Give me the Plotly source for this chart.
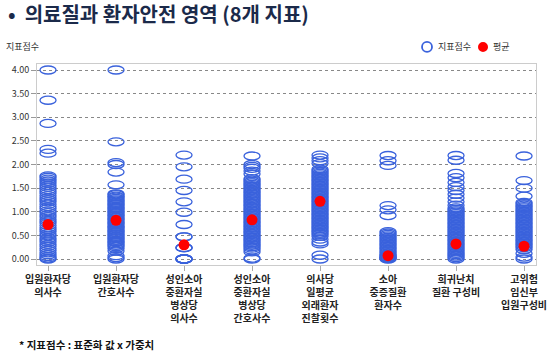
import plotly.graph_objects as go

categories = [
    "입원환자당<br>의사수",
    "입원환자당<br>간호사수",
    "성인소아<br>중환자실<br>병상당<br>의사수",
    "성인소아<br>중환자실<br>병상당<br>간호사수",
    "의사당<br>일평균<br>외래환자<br>진찰횟수",
    "소아<br>중증질환<br>환자수",
    "희귀난치<br>질환 구성비",
    "고위험<br>임신부<br>입원구성비",
]

scores_1 = [4.00, 3.36, 2.87, 2.32, 2.24, 1.76, 1.73, 1.69, 1.65, 1.61, 1.56, 1.52, 1.47, 1.43,
            1.39, 1.34, 1.29, 1.25, 1.21, 1.16, 1.11, 1.07, 1.02, 0.98, 0.93, 0.89, 0.84, 0.80,
            0.76, 0.71, 0.66, 0.62, 0.58, 0.53, 0.49, 0.44, 0.40, 0.36, 0.31, 0.27, 0.22, 0.18,
            0.13, 0.09, 0.05, 0.02, 0.00]
scores_2 = [4.00, 2.48, 2.04, 2.00, 1.84, 1.57, 1.38, 1.36, 1.33, 1.31, 1.28, 1.25, 1.23, 1.20,
            1.17, 1.15, 1.12, 1.09, 1.07, 1.04, 1.01, 0.99, 0.96, 0.93, 0.91, 0.88, 0.85, 0.83,
            0.80, 0.77, 0.75, 0.72, 0.69, 0.67, 0.64, 0.61, 0.59, 0.56, 0.53, 0.51, 0.48, 0.45,
            0.43, 0.40, 0.37, 0.35, 0.32, 0.29, 0.26, 0.22, 0.17, 0.07, 0.03, 0.00]
scores_3 = [2.20, 1.95, 1.69, 1.45, 1.21, 0.99, 0.73, 0.47, 0.47, 0.24, 0.24, 0.24, 0.00, 0.00,
            0.00, 0.00, 0.00, 0.00]
scores_4 = [2.18, 2.00, 1.96, 1.92, 1.86, 1.80, 1.70, 1.67, 1.64, 1.61, 1.58, 1.55, 1.52, 1.49,
            1.46, 1.43, 1.40, 1.37, 1.34, 1.31, 1.28, 1.25, 1.22, 1.19, 1.16, 1.13, 1.10, 1.07,
            1.04, 1.01, 0.98, 0.95, 0.92, 0.89, 0.86, 0.83, 0.80, 0.77, 0.74, 0.71, 0.68, 0.65,
            0.62, 0.59, 0.56, 0.53, 0.50, 0.47, 0.44, 0.41, 0.38, 0.35, 0.32, 0.29, 0.26, 0.23,
            0.19, 0.15, 0.02, 0.00]
scores_5 = [2.20, 2.14, 2.08, 2.02, 1.90, 1.87, 1.84, 1.81, 1.78, 1.75, 1.72, 1.69, 1.66, 1.63,
            1.60, 1.57, 1.54, 1.51, 1.48, 1.45, 1.42, 1.39, 1.36, 1.33, 1.30, 1.27, 1.24, 1.21,
            1.18, 1.15, 1.12, 1.09, 1.06, 1.03, 1.00, 0.97, 0.94, 0.91, 0.88, 0.85, 0.82, 0.79,
            0.76, 0.73, 0.70, 0.67, 0.64, 0.61, 0.58, 0.55, 0.52, 0.48, 0.42, 0.36, 0.32, 0.08,
            0.00]
scores_6 = [2.19, 2.08, 1.98, 1.13, 1.04, 0.92, 0.58, 0.55, 0.52, 0.49, 0.46, 0.43, 0.40, 0.37,
            0.34, 0.31, 0.28, 0.25, 0.22, 0.19, 0.16, 0.13, 0.10, 0.08, 0.06, 0.04, 0.03, 0.02,
            0.01, 0.00]
scores_7 = [2.19, 2.09, 1.81, 1.72, 1.62, 1.53, 1.45, 1.37, 1.29, 1.21, 1.14, 1.08, 1.05, 1.02,
            0.99, 0.96, 0.93, 0.90, 0.87, 0.84, 0.81, 0.78, 0.75, 0.72, 0.69, 0.66, 0.63, 0.60,
            0.57, 0.54, 0.51, 0.48, 0.45, 0.42, 0.39, 0.36, 0.33, 0.30, 0.27, 0.24, 0.21, 0.18,
            0.15, 0.12, 0.09, 0.06, 0.03, 0.00]
scores_8 = [2.18, 1.66, 1.50, 1.33, 1.20, 1.17, 1.14, 1.11, 1.08, 1.05, 1.02, 0.99, 0.96, 0.93,
            0.90, 0.87, 0.84, 0.81, 0.78, 0.75, 0.72, 0.69, 0.66, 0.63, 0.60, 0.57, 0.54, 0.51,
            0.48, 0.45, 0.42, 0.39, 0.36, 0.33, 0.30, 0.27, 0.24, 0.20, 0.12, 0.04, 0.00]

means = [0.73, 0.82, 0.30, 0.83, 1.22, 0.07, 0.32, 0.27]

y_ticks = [0.0, 0.5, 1.0, 1.5, 2.0, 2.5, 3.0, 3.5, 4.0]

legend_labels = ["지표점수", "평균"]

all_scores = [scores_1, scores_2, scores_3, scores_4, scores_5, scores_6, scores_7, scores_8]

BLUE = "#3a62dc"
RED = "#ff0000"
FONT = "Noto Sans CJK KR"
HALF_W = 0.118
HALF_H = 0.085

fig = go.Figure()

shapes = []
for i, vals in enumerate(all_scores):
    for v in vals:
        shapes.append(dict(
            type="circle", xref="x", yref="y",
            x0=i - HALF_W, x1=i + HALF_W, y0=v - HALF_H, y1=v + HALF_H,
            line=dict(color=BLUE, width=1.3),
            fillcolor="rgba(0,0,0,0)", layer="between",
        ))

# compact legend symbols, as in the reference
LEG_Y = 1.085
shapes.append(dict(type="circle", xref="paper", yref="paper",
                   xsizemode="pixel", ysizemode="pixel",
                   xanchor=0.7816, yanchor=LEG_Y, x0=-5, x1=5, y0=-5, y1=5,
                   line=dict(color=BLUE, width=1.8), fillcolor="rgba(0,0,0,0)"))
shapes.append(dict(type="circle", xref="paper", yref="paper",
                   xsizemode="pixel", ysizemode="pixel",
                   xanchor=0.8938, yanchor=LEG_Y, x0=-5, x1=5, y0=-5, y1=5,
                   line=dict(color=RED, width=0), fillcolor=RED))

fig.add_trace(go.Scatter(
    x=list(range(len(categories))), y=means, mode="markers", name=legend_labels[1],
    marker=dict(symbol="circle", size=11, color=RED),
    showlegend=False,
))

fig.update_layout(
    width=550, height=356,
    margin=dict(l=37, r=14, t=64, b=91, autoexpand=False),
    paper_bgcolor="white", plot_bgcolor="white",
    shapes=shapes,
    showlegend=False,
    font=dict(family=FONT, color="#333333", size=9),
    title=dict(
        text="<b>•  의료질과 환자안전 영역 (8개 지표)</b>",
        x=8 / 550, xanchor="left", xref="container",
        y=1 - 15 / 356, yanchor="middle", yref="container",
        font=dict(family=FONT, size=20, color="#1b2a4a"),
    ),
    annotations=[
        dict(text="지표점수", xref="paper", yref="paper", x=-0.066, y=LEG_Y,
             xanchor="left", yanchor="middle", showarrow=False,
             font=dict(family=FONT, size=9, color="#333333")),
        dict(text=legend_labels[0], xref="paper", yref="paper", x=0.7996, y=LEG_Y,
             xanchor="left", yanchor="middle", showarrow=False,
             font=dict(family=FONT, size=9, color="#333333")),
        dict(text=legend_labels[1], xref="paper", yref="paper", x=0.9098, y=LEG_Y,
             xanchor="left", yanchor="middle", showarrow=False,
             font=dict(family=FONT, size=9, color="#333333")),
        dict(text="<b>* 지표점수 : 표준화 값 x 가중치</b>", xref="paper", yref="paper",
             x=-0.04, y=-0.398, xanchor="left", yanchor="middle", showarrow=False,
             font=dict(family=FONT, size=10.5, color="#111111")),
    ],
)

fig.update_xaxes(
    range=[-0.162, 7.176],
    tickmode="array", tickvals=list(range(len(categories))),
    ticktext=["<b>" + c + "</b>" for c in categories],
    tickfont=dict(family=FONT, size=10, color="#222222"),
    ticks="outside", ticklen=5, tickcolor="#aaaaaa",
    showline=True, mirror=True, linecolor="#cccccc", linewidth=1,
    showgrid=False, zeroline=False, fixedrange=True,
)
fig.update_yaxes(
    range=[-0.127, 4.127],
    tickmode="array", tickvals=y_ticks,
    ticktext=[f"{t:.2f}" for t in y_ticks],
    tickfont=dict(family=FONT, size=9, color="#333333"),
    ticks="outside", ticklen=5, tickcolor="#999999",
    showline=True, mirror=True, linecolor="#cccccc", linewidth=1,
    showgrid=True, gridcolor="#888888", griddash="dot", gridwidth=1,
    zeroline=False, fixedrange=True,
)

fig.write_html(
    "out.html",
    config={"displayModeBar": False},
    post_script="document.body.style.margin='0';document.body.style.overflow='hidden';",
)
